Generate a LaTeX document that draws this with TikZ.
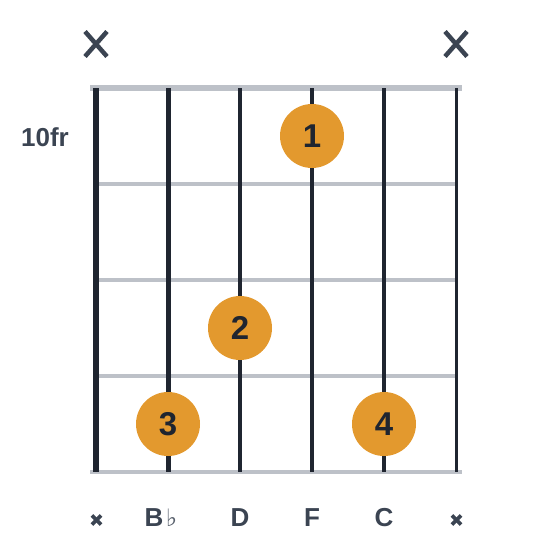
\documentclass[tikz,border=0pt]{standalone}
\usepackage{fontspec}
\setmainfont{Liberation Sans}
\newfontfamily\symfont{DejaVu Sans}
\definecolor{strcol}{HTML}{1F2530}
\definecolor{fretcol}{HTML}{BDC1C8}
\definecolor{txtcol}{HTML}{3B4452}
\definecolor{dotcol}{HTML}{E3992E}
\begin{document}
\begin{tikzpicture}[x=1pt,y=-1pt,
  fingerdot/.style={circle,fill=dotcol,minimum size=64pt,inner sep=0pt,
    font=\fontsize{33}{33}\selectfont\bfseries,text=strcol},
  lbl/.style={font=\fontsize{26}{26}\selectfont\bfseries,text=txtcol,inner sep=0pt,anchor=base},
  fretline/.style={draw=fretcol,line width=3.5pt},
  nutline/.style={draw=fretcol,line width=6pt},
  stringline/.style={draw=strcol},
  bigx/.style={draw=txtcol,line width=4.5pt},
  smallx/.style={draw=txtcol,line width=3.6pt}]
\useasboundingbox (0,0) rectangle (560,560);
% coordinates
\foreach \i/\x in {1/96,2/168,3/240,4/312,5/384,6/456}{
  \coordinate (s\i t) at (\x,88);
  \coordinate (s\i b) at (\x,472);
}
\coordinate (nutL) at (90,88);  \coordinate (nutR) at (462,88);
\coordinate (botL) at (90,472); \coordinate (botR) at (462,472);
\foreach \j/\y in {1/184,2/280,3/376}{
  \coordinate (f\j L) at (96,\y);
  \coordinate (f\j R) at (456,\y);
}
% frets
\draw[nutline] (nutL) -- (nutR);
\draw[fretline] (botL) -- (botR);
\foreach \j in {1,2,3}{ \draw[fretline] (f\j L) -- (f\j R); }
% strings
\draw[stringline,line width=5.8pt] (s1t) -- (s1b);
\draw[stringline,line width=5pt] (s2t) -- (s2b);
\draw[stringline,line width=4.4pt] (s3t) -- (s3b);
\draw[stringline,line width=3.8pt] (s4t) -- (s4b);
\draw[stringline,line width=3.3pt] (s5t) -- (s5b);
\draw[stringline,line width=3pt] (s6t) -- (s6b);
% fret label
\node[lbl] (fr) at (45,146.5) {10fr};
% finger dots
\node[fingerdot] (d1) at (312,136) {1};
\node[fingerdot] (d2) at (240,328) {2};
\node[fingerdot] (d3) at (168,424) {3};
\node[fingerdot] (d4) at (384,424) {4};
% muted marks top
\foreach \n/\x in {xa/96,xb/456}{
  \coordinate (\n) at (\x,44);
  \draw[bigx] ([shift={(-11,-12.5)}]\n) -- ([shift={(11,12.5)}]\n);
  \draw[bigx] ([shift={(-11,12.5)}]\n) -- ([shift={(11,-12.5)}]\n);
}
% bottom labels
\foreach \n/\x in {ma/96.5,mb/456.5}{
  \coordinate (\n) at (\x,520);
  \draw[smallx] ([shift={(-4.6,-4.6)}]\n) -- ([shift={(4.6,4.6)}]\n);
  \draw[smallx] ([shift={(-4.6,4.6)}]\n) -- ([shift={(4.6,-4.6)}]\n);
}
\node[lbl,anchor=base west] (nB) at (144.5,526) {B};
\node[anchor=base west,inner sep=0pt,text=txtcol!85,font=\symfont\fontsize{24}{24}\selectfont] (nflat) at ([xshift=2pt]nB.base east) {♭};
\node[lbl] (nD) at (240,526) {D};
\node[lbl] (nF) at (312,526) {F};
\node[lbl] (nC) at (384,526) {C};
\end{tikzpicture}
\end{document}
